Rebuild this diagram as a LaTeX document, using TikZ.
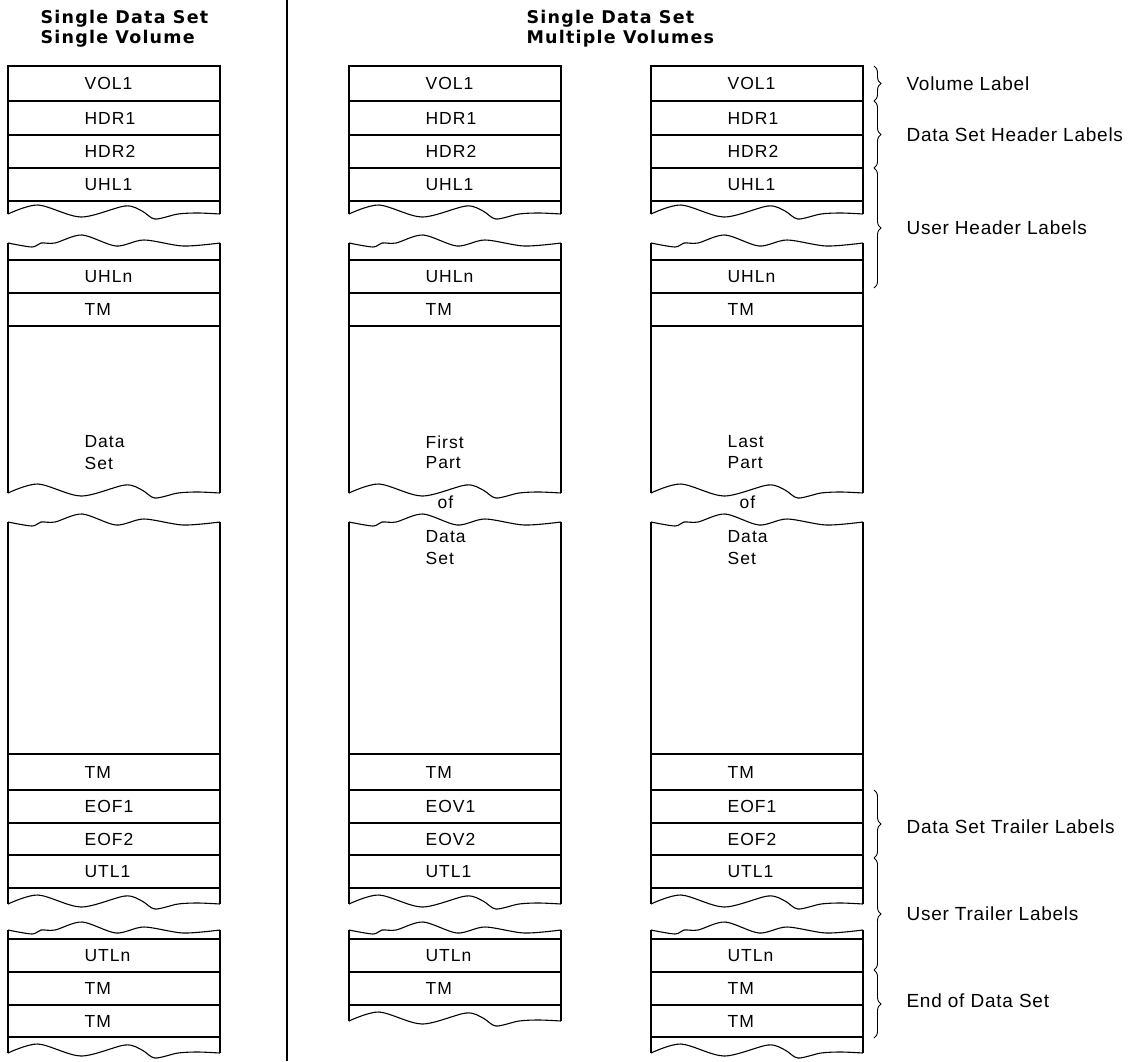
\documentclass[tikz,border=0pt]{standalone}
\usepackage{fontspec}
\setmainfont{Liberation Sans}
\newfontfamily\rowfont[LetterSpace=6]{Liberation Sans}
\newfontfamily\headfont[LetterSpace=7]{DejaVu Sans}
\newfontfamily\notefont[LetterSpace=4]{Liberation Sans}
\usetikzlibrary{decorations.pathreplacing}

% torn tape edges, measured from the left side of a column
\newcommand{\botwave}[1]{\draw[shift={(0,#1)}] plot[smooth] coordinates {(0,0) (30,-9) (73,3) (117,-8) (134,-3) (147,5) (170,0) (190,-1) (212,0)};}
\newcommand{\topwave}[1]{\draw[shift={(0,#1)}] plot[smooth] coordinates {(0,0) (24,4) (33,0) (47,0) (74,-8) (108,3) (136,-3) (175,3) (212,0)};}

\begin{document}
\begin{tikzpicture}[x=1pt, y=-1pt, line width=1.1pt,
  rowtxt/.style={anchor=west, inner sep=0pt, font=\rowfont\fontsize{17.5}{21}\selectfont},
  headtxt/.style={anchor=base west, inner sep=0pt, font=\headfont\bfseries\fontsize{17.5}{21}\selectfont},
  notetxt/.style={anchor=west, inner sep=0pt, font=\notefont\fontsize{19}{23}\selectfont},
  curly/.style={decorate, decoration={brace, amplitude=7pt}, line width=0.9pt}]
  \useasboundingbox (0,0) rectangle (1136,1061);

  % titles and the rule between them
  \node[headtxt] (svt1) at (40,23) {Single Data Set};
  \node[headtxt] (svt2) at (40,43) {Single Volume};
  \node[headtxt] (mvt1) at (526,23) {Single Data Set};
  \node[headtxt] (mvt2) at (526,43) {Multiple Volumes};
  \coordinate (rtop) at (287,0); \coordinate (rbot) at (287,1061);
  \draw[line width=2.6pt] (rtop) -- (rbot);

  % the three tapes
  \foreach \x/\c/\ta/\tb/\eo in {8/s/Data/Set/EOF, 349/f/First/Part/EOV, 651/l/Last/Part/EOF} {
    \begin{scope}[shift={(\x,0)}]
      \draw (0,214) |- (212,66) -- (212,214);
      \foreach \y in {101,135,168,201} \draw (0,\y) -- (212,\y);
      \botwave{214}
      \node[rowtxt] (\c-vol) at (76,83.5) {VOL1};
      \node[rowtxt] (\c-hdr1) at (76,118) {HDR1};
      \node[rowtxt] (\c-hdr2) at (76,151.5) {HDR2};
      \node[rowtxt] (\c-uhl1) at (76,184.5) {UHL1};

      \topwave{243}
      \draw (0,243) -- (0,493) (212,243) -- (212,493);
      \foreach \y in {260,293,326} \draw (0,\y) -- (212,\y);
      \botwave{493}
      \node[rowtxt] (\c-uhln) at (76,276.5) {UHLn};
      \node[rowtxt] (\c-tm1) at (76,309.5) {TM};
      \node[rowtxt] (\c-txt1) at (76,442) {\ta};
      \node[rowtxt] (\c-txt2) at (76,463) {\tb};

      \topwave{522}
      \draw (0,522) -- (0,904) (212,522) -- (212,904);
      \foreach \y in {754,790,823,855,888} \draw (0,\y) -- (212,\y);
      \botwave{904}
      \node[rowtxt] (\c-tm2) at (76,772) {TM};
      \node[rowtxt] (\c-eo1) at (76,806.5) {\eo1};
      \node[rowtxt] (\c-eo2) at (76,839) {\eo2};
      \node[rowtxt] (\c-utl1) at (76,871.5) {UTL1};

      \topwave{930}
      \node[rowtxt] (\c-utln) at (76,955.5) {UTLn};
      \node[rowtxt] (\c-tm3) at (76,988.5) {TM};
    \end{scope}
  }

  % rest of the data set on the two volumes
  \foreach \x/\c in {349/f, 651/l} {
    \node[rowtxt] (\c-of) at (\x+88,502) {of};
    \node[rowtxt] (\c-dat) at (\x+76,537) {Data};
    \node[rowtxt] (\c-set) at (\x+76,558) {Set};
  }

  % end of the tapes
  \foreach \x/\c in {8/s, 651/l} {
    \begin{scope}[shift={(\x,0)}]
      \draw (0,930) -- (0,1053) (212,930) -- (212,1053);
      \foreach \y in {939,972,1005,1037} \draw (0,\y) -- (212,\y);
      \botwave{1053}
      \node[rowtxt] (\c-tm4) at (76,1021) {TM};
    \end{scope}
  }
  \begin{scope}[shift={(349,0)}]
    \draw (0,930) -- (0,1021) (212,930) -- (212,1021);
    \foreach \y in {939,972,1005} \draw (0,\y) -- (212,\y);
    \botwave{1021}
  \end{scope}

  % braces and what they group
  \foreach \ya/\yb/\yt/\n/\txt in {66/101/83.5/vl/Volume Label, 101/168/135/dshl/Data Set Header Labels,
      168/288/228/uhl/User Header Labels, 790/858/827/dstl/Data Set Trailer Labels,
      858/970/914/utl/User Trailer Labels, 970/1038/1001/eods/End of Data Set} {
    \draw[curly] (874,\ya) -- (874,\yb);
    \node[notetxt] (\n) at (906,\yt) {\txt};
  }
\end{tikzpicture}
\end{document}
